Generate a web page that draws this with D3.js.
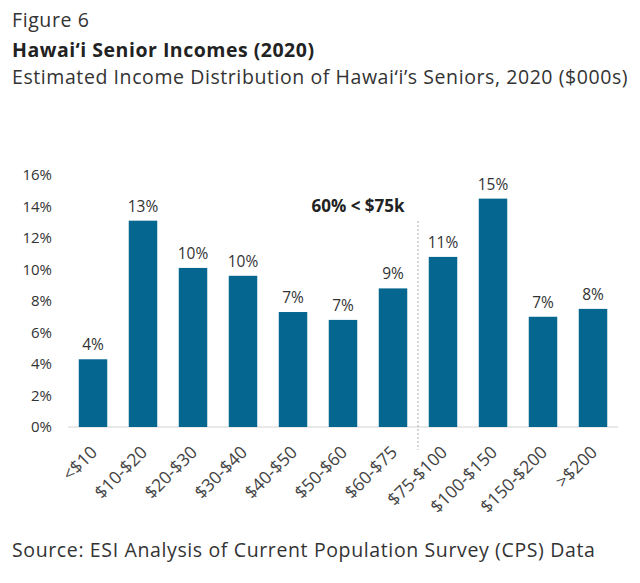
<!DOCTYPE html>
<html lang="en">
<meta charset="utf-8">
<head>
    <script src="https://d3js.org/d3.v7.min.js"></script>
    <style>
        body { margin: 0; background: #fff; }
        text { font-family: "Open Sans", Lato, sans-serif; }
    </style>
</head>
<body>
<script>

// income brackets ($000s) and share of seniors (%)
const categories = ["<$10", "$10-$20", "$20-$30", "$30-$40", "$40-$50", "$50-$60",
    "$60-$75", "$75-$100", "$100-$150", "$150-$200", ">$200"];
const values = [4.3, 13.1, 10.1, 9.6, 7.3, 6.8, 8.8, 10.8, 14.5, 7.0, 7.5];
const labels = ["4%", "13%", "10%", "10%", "7%", "7%", "9%", "11%", "15%", "7%", "8%"];
const yTicks = [0, 2, 4, 6, 8, 10, 12, 14, 16];

const width = 640,
    height = 583;
const font = "'Open Sans', Lato, sans-serif";

const svg = d3.select("body")
    .append("svg")
    .attr("width", width)
    .attr("height", height);

// titles
svg.append("text").attr("x", 12).attr("y", 27)
    .attr("font-size", 19.5).attr("letter-spacing", 0.6).attr("fill", "#333").text("Figure 6");
svg.append("text").attr("x", 12).attr("y", 57)
    .attr("font-size", 19.5).attr("letter-spacing", 0.5)
    .attr("font-weight", "bold").attr("fill", "#222")
    .text("Hawai\u2018i Senior Incomes (2020)");
svg.append("text").attr("x", 12).attr("y", 84)
    .attr("font-size", 19.5).attr("letter-spacing", 0.58).attr("fill", "#333")
    .text("Estimated Income Distribution of Hawai\u2018i\u2019s Seniors, 2020 ($000s)");

// scales
const x = d3.scaleBand()
    .domain(categories)
    .range([68, 618])
    .paddingInner(0.43)
    .paddingOuter(0.215);

const y = d3.scaleLinear()
    .domain([0, 16])
    .range([427, 175]);

// y axis: labels only
const yAxis = svg.append("g")
    .attr("transform", "translate(52,0)")
    .call(d3.axisLeft(y).tickValues(yTicks).tickSize(0).tickPadding(0).tickFormat(d => d + "%"));
yAxis.select(".domain").remove();
yAxis.selectAll("text")
    .attr("font-size", 15).attr("fill", "#333")
    .style("font-family", font);

// baseline
svg.append("line")
    .attr("x1", 68).attr("x2", 618)
    .attr("y1", y(0)).attr("y2", y(0))
    .attr("stroke", "#e2e2e2").attr("stroke-width", 1.5);

// bars
svg.selectAll("rect.bar")
    .data(values)
    .join("rect")
    .attr("class", "bar")
    .attr("x", (d, i) => x(categories[i]))
    .attr("width", x.bandwidth())
    .attr("y", d => y(d))
    .attr("height", d => y(0) - y(d))
    .attr("fill", "#05678f");

// value labels
svg.selectAll("text.val")
    .data(values)
    .join("text")
    .attr("class", "val")
    .attr("x", (d, i) => x(categories[i]) + x.bandwidth() / 2)
    .attr("y", d => y(d) - 9)
    .attr("text-anchor", "middle")
    .attr("font-size", 15.5).attr("fill", "#333")
    .text((d, i) => labels[i]);

// x axis labels, rotated
const xAxis = svg.append("g")
    .attr("transform", `translate(0,${y(0)})`)
    .call(d3.axisBottom(x).tickSize(0).tickPadding(0));
xAxis.select(".domain").remove();
xAxis.selectAll("text")
    .attr("font-size", 17.5).attr("fill", "#444")
    .style("font-family", font)
    .attr("text-anchor", "end")
    .attr("dy", "0.35em")
    .attr("transform", "translate(1,22) rotate(-45)");

// dashed divider between $60-$75 and $75-$100
const divX = (x("$60-$75") + x.bandwidth() + x("$75-$100")) / 2;
svg.append("line")
    .attr("x1", divX).attr("x2", divX)
    .attr("y1", 221).attr("y2", 450)
    .attr("stroke", "#aaa").attr("stroke-width", 1)
    .attr("stroke-dasharray", "2,2");

svg.append("text")
    .attr("x", 358).attr("y", 212)
    .attr("text-anchor", "middle")
    .attr("font-size", 17).attr("font-weight", "bold").attr("fill", "#222")
    .text("60% < $75k");

// source
svg.append("text").attr("x", 12).attr("y", 557)
    .attr("font-size", 19.5).attr("letter-spacing", 0.63).attr("fill", "#333")
    .text("Source: ESI Analysis of Current Population Survey (CPS) Data");

</script>
</body>
</html>
